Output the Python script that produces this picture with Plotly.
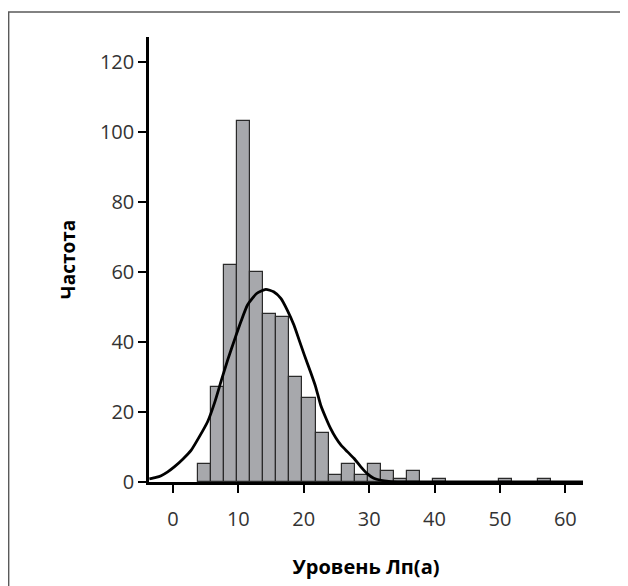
import plotly.graph_objects as go

# Histogram data: left edges of bins (width 2) and counts
bin_left = [3.8, 5.8, 7.8, 9.8, 11.8, 13.8, 15.8, 17.8, 19.8, 21.8, 23.8, 25.8,
            27.8, 29.8, 31.8, 33.8, 35.8, 39.8, 49.8, 55.8]
counts = [5, 27, 62, 103, 60, 48, 47, 30, 24, 14, 2, 5,
          2, 5, 3, 1, 3, 1, 1, 1]
bin_width = 2.0

# Fitted curve
curve_x = [-3.6, -2.6, -1.8, -0.8, 0.2, 1.5, 2.8, 4.0, 5.3, 6.4, 7.4, 8.4, 9.4, 10.4, 11.4,
           12.8, 14.2, 15.4, 16.5, 17.5, 18.5, 19.3, 20.1, 21.0, 21.8, 22.6, 23.4, 24.1,
           24.9, 25.7, 26.7, 27.7, 28.7, 29.7, 30.7, 31.8, 33.0, 35.0, 40.0, 50.0, 62.7]
curve_y = [0.9, 1.3, 1.8, 2.9, 4.3, 6.5, 9.1, 12.8, 17.2, 22.8, 29.0, 35.0, 40.5, 45.8, 50.5,
           53.8, 55.0, 54.3, 52.4, 49.0, 44.8, 40.5, 36.2, 31.6, 27.3, 21.9, 18.2, 15.3,
           12.6, 10.5, 8.6, 6.7, 4.4, 2.4, 1.1, 0.5, 0.2, 0.05, 0.0, 0.0, 0.0]

x_ticks = [0, 10, 20, 30, 40, 50, 60]
y_ticks = [0, 20, 40, 60, 80, 100, 120]

bar_x = [b + bin_width / 2 for b in bin_left]

fig = go.Figure()
fig.add_trace(go.Bar(
    x=bar_x, y=counts, width=[bin_width] * len(counts),
    marker=dict(color="#a7a8ac", line=dict(color="#2a2a2a", width=1.2)),
    hoverinfo="skip", showlegend=False,
))
fig.add_trace(go.Scatter(
    x=curve_x, y=curve_y, mode="lines",
    line=dict(color="black", width=2.8, shape="spline", smoothing=0.5),
    hoverinfo="skip", showlegend=False,
))

W, H = 620, 578
L, R, T, B = 141, 45, 29, 104
pw, ph = W - L - R, H - T - B

def px_to_paper_x(px):
    return (px - L) / pw

def py_to_paper_y(py):
    return (H - B - py) / ph

fig.add_shape(type="rect", xref="paper", yref="paper",
              x0=px_to_paper_x(0.7), x1=px_to_paper_x(618.5),
              y0=py_to_paper_y(600), y1=py_to_paper_y(4),
              line=dict(color="#5a5a5a", width=1.4), fillcolor="rgba(0,0,0,0)",
              layer="below")

fig.update_layout(
    width=W, height=H,
    margin=dict(l=L, r=R, t=T, b=B),
    paper_bgcolor="white", plot_bgcolor="white",
    bargap=0,
    font=dict(family="Open Sans", color="#333333", size=20),
    xaxis=dict(
        range=[-3.66, 62.7], tickvals=x_ticks, ticktext=[str(v) for v in x_ticks],
        showline=True, linecolor="black", linewidth=3,
        ticks="outside", ticklen=8, tickwidth=2, tickcolor="black",
        ticklabelstandoff=9,
        showgrid=False, zeroline=False,
        tickfont=dict(size=20, color="#333333"),
        title=dict(text="<b>Уровень Лп(а)</b>", standoff=29,
                   font=dict(size=20, color="black")),
    ),
    yaxis=dict(
        range=[0, 127], tickvals=y_ticks, ticktext=[str(v) for v in y_ticks],
        showline=True, linecolor="black", linewidth=2.5,
        ticks="outside", ticklen=8, tickwidth=2, tickcolor="black",
        showgrid=False, zeroline=False,
        tickfont=dict(size=20, color="#333333"),
        title=dict(text="<b>Частота</b>", standoff=20,
                   font=dict(size=19, color="black")),
    ),
)

fig.write_html("out.html")
